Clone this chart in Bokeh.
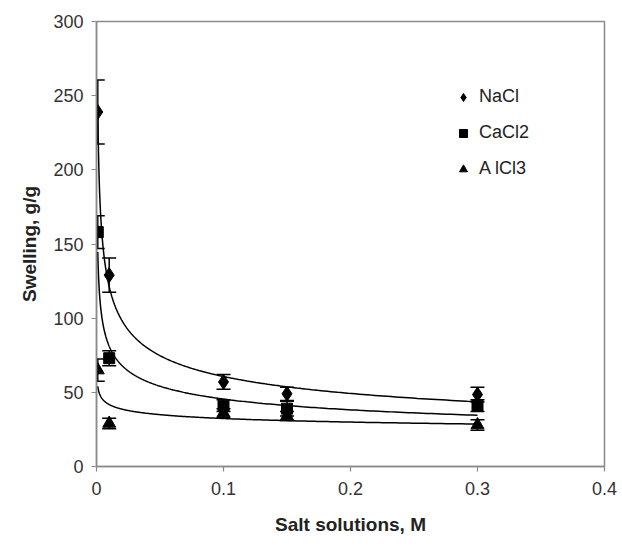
import numpy as np
from bokeh.plotting import figure
from bokeh.models import (ColumnDataSource, Whisker, TeeHead, Range1d, FixedTicker,
                          Legend, LegendItem)
from bokeh.embed import file_html
from bokeh.resources import INLINE

# Salt concentration (M) and measured swelling (g/g) with error bar half-widths
conc = [0.001, 0.01, 0.1, 0.15, 0.3]
nacl = [239, 129, 57, 49, 48.5]
nacl_err = [21.5, 11.5, 5, 4.5, 5]
cacl2 = [158, 73, 41, 39, 41]
cacl2_err = [11, 5, 4, 5, 4]
alcl3 = [65, 29, 36, 34, 28]
alcl3_err = [7.5, 3.5, 3, 3, 3.5]

series_names = ["NaCl", "CaCl2", "AlCl3"]
legend_labels = ["NaCl", "CaCl2", "A lCl3"]

x_ticks = [0, 0.1, 0.2, 0.3, 0.4]
x_tick_labels = ["0", "0.1", "0.2", "0.3", "0.4"]
y_ticks = [0, 50, 100, 150, 200, 250, 300]

FONT = "Liberation Sans"
AXIS_GREY = "#8a8a8a"

p = figure(width=622, height=547, output_backend="svg", toolbar_location=None,
           x_range=Range1d(0, 0.4), y_range=Range1d(0, 300),
           min_border_left=96, min_border_right=18, min_border_top=21,
           min_border_bottom=81)
p.background_fill_color = "white"
p.border_fill_color = "white"
p.outline_line_color = AXIS_GREY
p.outline_line_width = 1.5
p.grid.visible = False

for ax in (p.xaxis[0], p.yaxis[0]):
    ax.axis_line_color = AXIS_GREY
    ax.axis_line_width = 1.5
    ax.major_tick_line_color = AXIS_GREY
    ax.major_tick_line_width = 1.2
    ax.major_tick_in = 0
    ax.major_tick_out = 5
    ax.minor_tick_line_color = None
    ax.major_label_text_font = FONT
    ax.major_label_text_font_size = "18px"
    ax.major_label_text_color = "#333333"
    ax.axis_label_text_font = FONT
    ax.axis_label_text_font_size = "19px"
    ax.axis_label_text_font_style = "bold"
    ax.axis_label_text_color = "#222222"

p.xaxis.ticker = FixedTicker(ticks=x_ticks)
p.xaxis.major_label_overrides = {v: s for v, s in zip(x_ticks, x_tick_labels)}
p.xaxis.major_label_standoff = 10
p.xaxis.axis_label = "Salt solutions, M"
p.xaxis.axis_label_standoff = 16

p.yaxis.ticker = FixedTicker(ticks=y_ticks)
p.yaxis.major_label_standoff = 8
p.yaxis.axis_label = "Swelling, g/g"
p.yaxis.axis_label_standoff = 10

markers = [dict(marker="diamond", size=15),
           dict(marker="square", size=11),
           dict(marker="triangle", size=13)]

items = []
for name, vals, errs, mk, lab in zip(series_names, [nacl, cacl2, alcl3],
                                     [nacl_err, cacl2_err, alcl3_err], markers,
                                     legend_labels):
    x = np.array(conc)
    y = np.array(vals, dtype=float)
    e = np.array(errs, dtype=float)

    # power-law trend line y = a * x^b fitted in log-log space
    b, ln_a = np.polyfit(np.log(x), np.log(y), 1)
    xs = np.geomspace(x.min(), x.max(), 400)
    p.line(xs, np.exp(ln_a) * xs ** b, line_color="black", line_width=1.5)

    src = ColumnDataSource(dict(x=x, y=y, lo=y - e, hi=y + e))
    w = Whisker(source=src, base="x", lower="lo", upper="hi",
                line_color="black", line_width=1.5,
                upper_head=TeeHead(size=14, line_color="black", line_width=1.5),
                lower_head=TeeHead(size=14, line_color="black", line_width=1.5))
    p.add_layout(w)

    r = p.scatter("x", "y", source=src, marker=mk["marker"], size=mk["size"],
                  fill_color="black", line_color="black")
    items.append(LegendItem(label=lab, renderers=[r]))

legend = Legend(items=items, location=(357, 287), border_line_color=None,
                background_fill_alpha=0, label_text_font=FONT,
                label_text_font_size="18px", label_text_color="#222222",
                glyph_width=20, glyph_height=20, label_height=20, spacing=15,
                padding=10, label_standoff=6)
p.add_layout(legend, "center")

open("out.html", "w").write(file_html(p, INLINE))
